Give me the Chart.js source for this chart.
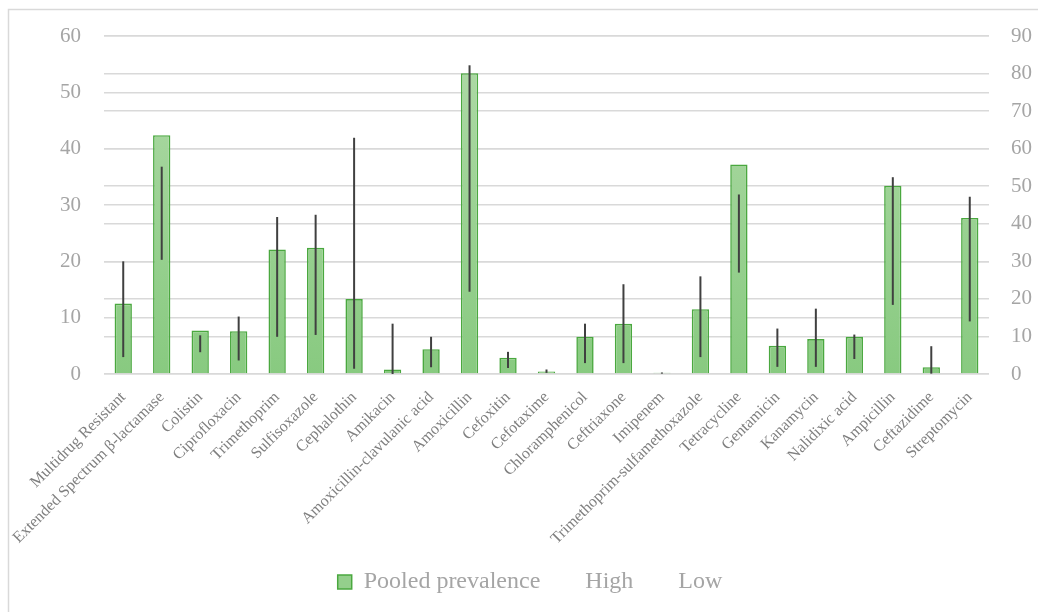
<!DOCTYPE html>
<html>
<head>
<meta charset="utf-8">
<script src="https://cdn.jsdelivr.net/npm/chart.js@4"></script>
<style>
  html, body { margin: 0; padding: 0; background: #ffffff; }
  #wrap { width: 1038px; height: 612px; }
</style>
</head>
<body>
<div id="wrap"><canvas id="chart" width="1038" height="612"></canvas></div>
<script>
// Antimicrobial agents / resistance categories
const categories = [
  "Multidrug Resistant", "Extended Spectrum β-lactamase", "Colistin", "Ciprofloxacin",
  "Trimethoprim", "Sulfisoxazole", "Cephalothin", "Amikacin",
  "Amoxicillin-clavulanic acid", "Amoxicillin", "Cefoxitin", "Cefotaxime",
  "Chloramphenicol", "Ceftriaxone", "Imipenem", "Trimethoprim-sulfamethoxazole",
  "Tetracycline", "Gentamicin", "Kanamycin", "Nalidixic acid",
  "Ampicillin", "Ceftazidime", "Streptomycin"
];

// Pooled prevalence (left axis)
const pooledPrevalence = [
  12.5, 42.4, 7.7, 7.6, 22.1, 22.4, 13.3, 0.8,
  4.4, 53.4, 2.9, 0.45, 6.6, 8.9, 0.2, 11.5,
  37.2, 5.0, 6.2, 6.6, 33.4, 1.2, 27.7
];

// Confidence bounds (right axis)
const highValues = [
  30.0, 55.2, 10.3, 15.3, 41.8, 42.4, 62.9, 13.4,
  9.9, 82.2, 5.9, 1.2, 13.4, 23.9, 0.4, 26.0,
  47.8, 12.1, 17.4, 10.5, 52.4, 7.4, 47.2
];
const lowValues = [
  4.5, 30.4, 5.8, 3.6, 9.9, 10.4, 1.4, 0.0,
  1.8, 21.9, 1.6, 0.3, 2.9, 2.9, 0.1, 4.5,
  27.0, 1.9, 1.9, 4.0, 18.4, 0.1, 14.0
];

const FONT = '"Liberation Serif", "Times New Roman", serif';
const GRID = '#d9d9d9';
const BAR_BORDER = '#4aa83f';

// Vertical bar fill: lighter green at the top of the plot, deeper green near the base
function barFill(context) {
  const chart = context.chart;
  const area = chart.chartArea;
  if (!area) return '#94cf8c';
  const g = chart.ctx.createLinearGradient(0, area.top, 0, area.bottom);
  g.addColorStop(0, '#b0daa8');
  g.addColorStop(1, '#88ca80');
  return g;
}

// High-low lines joining the High and Low points of each category
const highLowLines = {
  id: 'highLowLines',
  afterDatasetsDraw(chart) {
    const hi = chart.getDatasetMeta(1);
    const lo = chart.getDatasetMeta(2);
    if (hi.hidden || lo.hidden) return;
    const ctx = chart.ctx;
    ctx.save();
    ctx.strokeStyle = '#404040';
    ctx.lineWidth = 2;
    hi.data.forEach((pt, i) => {
      const lp = lo.data[i];
      if (!lp) return;
      ctx.beginPath();
      ctx.moveTo(pt.x, pt.y);
      ctx.lineTo(lp.x, lp.y);
      ctx.stroke();
    });
    ctx.restore();
  }
};

// Thin frame around the chart
const chartFrame = {
  id: 'chartFrame',
  beforeDraw(chart) {
    const ctx = chart.ctx;
    ctx.save();
    ctx.strokeStyle = GRID;
    ctx.lineWidth = 1.5;
    ctx.beginPath();
    ctx.moveTo(8.5, chart.height);
    ctx.lineTo(8.5, 9.5);
    ctx.lineTo(chart.width, 9.5);
    ctx.stroke();
    ctx.restore();
  }
};

new Chart(document.getElementById('chart'), {
  data: {
    labels: categories,
    datasets: [
      {
        type: 'bar',
        label: 'Pooled prevalence',
        data: pooledPrevalence,
        yAxisID: 'y',
        backgroundColor: barFill,
        borderColor: BAR_BORDER,
        borderWidth: 1.6,
        barPercentage: 0.45,
        categoryPercentage: 1.0
      },
      {
        type: 'line',
        label: 'High',
        data: highValues,
        yAxisID: 'y1',
        showLine: false,
        pointRadius: 0,
        pointHoverRadius: 0,
        borderColor: 'rgba(0,0,0,0)',
        backgroundColor: 'rgba(0,0,0,0)'
      },
      {
        type: 'line',
        label: 'Low',
        data: lowValues,
        yAxisID: 'y1',
        showLine: false,
        pointRadius: 0,
        pointHoverRadius: 0,
        borderColor: 'rgba(0,0,0,0)',
        backgroundColor: 'rgba(0,0,0,0)'
      }
    ]
  },
  options: {
    responsive: false,
    animation: false,
    layout: { padding: { top: 36, left: 22, right: 0, bottom: 8 } },
    plugins: {
      tooltip: { enabled: false },
      legend: {
        position: 'bottom',
        onClick: null,
        labels: {
          font: { family: FONT, size: 24 },
          color: '#a5a5a5',
          boxWidth: 14,
          boxHeight: 14,
          padding: 19,
          sort: (a, b) => a.datasetIndex - b.datasetIndex,
          generateLabels(chart) {
            const items = Chart.defaults.plugins.legend.labels.generateLabels(chart);
            items.forEach((it) => {
              if (it.datasetIndex === 0) {
                it.fillStyle = '#94cf8c';
                it.strokeStyle = BAR_BORDER;
                it.lineWidth = 1.5;
              } else {
                it.fillStyle = 'rgba(0,0,0,0)';
                it.strokeStyle = 'rgba(0,0,0,0)';
                it.lineWidth = 0;
              }
            });
            return items;
          }
        }
      }
    },
    scales: {
      x: {
        grid: { display: false },
        border: { display: false },
        ticks: {
          font: { family: FONT, size: 16 },
          color: '#7f7f7f',
          minRotation: 45,
          maxRotation: 45,
          autoSkip: false,
          padding: 6
        },
        afterFit(scale) { scale.height = 177; }
      },
      y: {
        position: 'left',
        min: 0,
        max: 60,
        ticks: {
          stepSize: 10,
          font: { family: FONT, size: 21 },
          color: '#a5a5a5',
          padding: 23
        },
        grid: { color: GRID, lineWidth: 1.5, drawTicks: false },
        border: { display: false },
        afterFit(scale) { scale.width = 82; }
      },
      y1: {
        position: 'right',
        min: 0,
        max: 90,
        ticks: {
          stepSize: 10,
          font: { family: FONT, size: 21 },
          color: '#a5a5a5',
          padding: 22
        },
        grid: { color: GRID, lineWidth: 1.5, drawTicks: false },
        border: { display: false },
        afterFit(scale) { scale.width = 49; }
      }
    }
  },
  plugins: [highLowLines, chartFrame]
});
</script>
</body>
</html>
